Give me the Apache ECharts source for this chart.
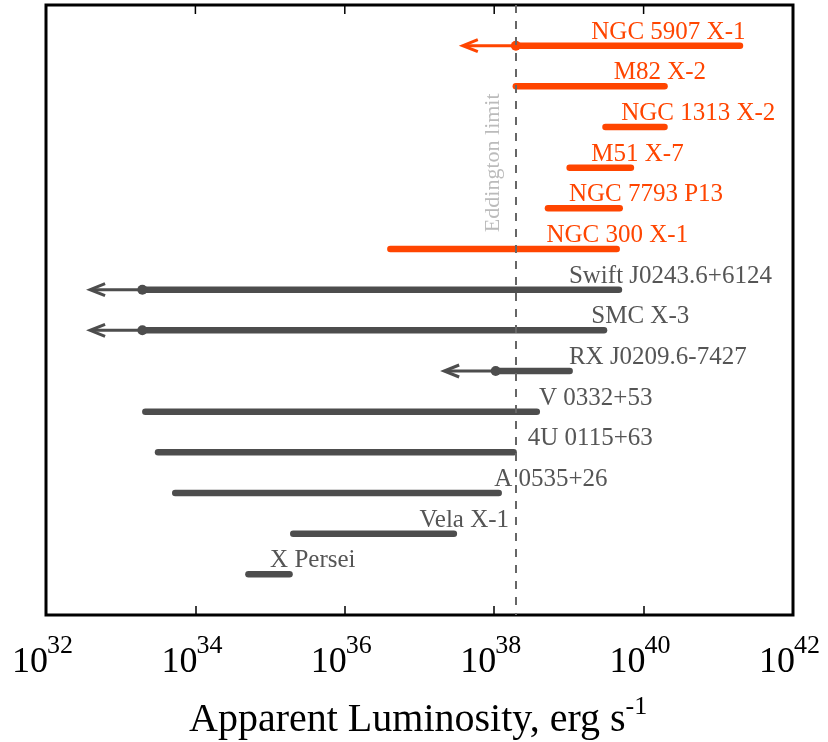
<!DOCTYPE html>
<html>
<head>
<meta charset="utf-8">
<script src="https://cdn.jsdelivr.net/npm/echarts@6/dist/echarts.min.js"></script>
<style>
  html, body { margin: 0; padding: 0; background: #fff; }
  #chart { width: 828px; height: 742px; }
</style>
</head>
<body>
<div id="chart"></div>
<script>
// log10 of apparent luminosity (erg/s), one row per source, top to bottom
const sources = ['NGC 5907 X-1', 'M82 X-2', 'NGC 1313 X-2', 'M51 X-7', 'NGC 7793 P13', 'NGC 300 X-1',
  'Swift J0243.6+6124', 'SMC X-3', 'RX J0209.6-7427', 'V 0332+53', '4U 0115+63', 'A 0535+26', 'Vela X-1', 'X Persei'];
const isULX = [1, 1, 1, 1, 1, 1, 0, 0, 0, 0, 0, 0, 0, 0];
const logLow = [38.29, 38.29, 39.49, 39.01, 38.72, 36.61, 33.29, 33.29, 38.02, 33.33, 33.50, 33.73, 35.31, 34.71];
const logHigh = [41.29, 40.28, 40.28, 39.83, 39.68, 39.64, 39.67, 39.47, 39.01, 38.57, 38.26, 38.06, 37.46, 35.26];
// upper limits: arrow goes down to this value
const logLimit = [37.58, null, null, null, null, null, 32.59, 32.59, 37.33, null, null, null, null, null];
const labelAt = [39.3, 39.6, 39.7, 39.3, 39.0, 38.7, 39.0, 39.3, 39.0, 38.6, 38.45, 38.0, 37.0, 35.0];
const eddington = 38.29;
const xTicks = [32, 34, 36, 38, 40, 42];

const orange = '#ff4500', grey = '#4d4d4d';
const serif = 'Liberation Serif, Times New Roman, serif';

let chart = echarts.init(document.getElementById('chart'));

function renderRow(params, api) {
  let i = params.dataIndex;
  let col = isULX[i] ? orange : grey;
  let p0 = api.coord([logLow[i], i]);
  let p1 = api.coord([logHigh[i], i]);
  let lab = api.coord([labelAt[i], i]);
  let kids = [];
  if (logLimit[i] != null) {
    let t = api.coord([logLimit[i], i]);
    kids.push({type: 'line', shape: {x1: t[0] + 2, y1: t[1], x2: p0[0], y2: p0[1]},
      style: {stroke: col, lineWidth: 3}});
    kids.push({type: 'polyline', shape: {points: [[t[0] + 15, t[1] - 6], [t[0], t[1]], [t[0] + 15, t[1] + 6]]},
      style: {stroke: col, lineWidth: 3, fill: null, lineJoin: 'miter'}});
  }
  kids.push({type: 'line', shape: {x1: p0[0], y1: p0[1], x2: p1[0], y2: p1[1]},
    style: {stroke: col, lineWidth: 6.5, lineCap: 'round'}});
  if (logLimit[i] != null) {
    kids.push({type: 'circle', shape: {cx: p0[0], cy: p0[1], r: 5}, style: {fill: col}});
  }
  kids.push({type: 'text', style: {text: sources[i], x: lab[0], y: lab[1] - 1,
    fill: isULX[i] ? orange : '#555', fontSize: 25, fontFamily: serif,
    align: 'left', verticalAlign: 'bottom', textAlign: 'left', textVerticalAlign: 'bottom'}});
  return {type: 'group', children: kids};
}

// inward ticks along the top edge + "10^n" labels under the bottom edge
function renderTick(params, api) {
  let v = api.value(0);
  let top = api.coord([v, -1]);
  let bot = api.coord([v, 14]);
  let kids = [];
  if (v > xTicks[0] && v < xTicks[xTicks.length - 1]) {
    kids.push({type: 'line', shape: {x1: top[0], y1: top[1], x2: top[0], y2: top[1] + 9},
      style: {stroke: '#000', lineWidth: 1.5}});
  }
  kids.push({type: 'text', style: {text: '10', x: bot[0] + 2, y: bot[1] + 66, fill: '#000',
    fontSize: 36, fontFamily: serif, align: 'right', verticalAlign: 'bottom', textAlign: 'right', textVerticalAlign: 'bottom'}});
  kids.push({type: 'text', style: {text: String(v), x: bot[0] + 1, y: bot[1] + 44, fill: '#000',
    fontSize: 26, fontFamily: serif, align: 'left', verticalAlign: 'bottom', textAlign: 'left', textVerticalAlign: 'bottom'}});
  return {type: 'group', children: kids};
}

let option = {
  animation: false,
  title: {
    text: '{a|Apparent Luminosity, erg s}{s|-1}',
    left: 189, top: 694, padding: 0,
    textStyle: {
      rich: {
        a: {fontSize: 40, fontFamily: serif, fontWeight: 'normal', color: '#000', lineHeight: 46, verticalAlign: 'bottom'},
        s: {fontSize: 26, fontFamily: serif, fontWeight: 'normal', color: '#000', lineHeight: 28, verticalAlign: 'top'}
      }
    }
  },
  grid: {left: 46, right: 35, top: 5, bottom: 127, outerBoundsMode: 'none', containLabel: false,
    show: true, borderColor: '#000', borderWidth: 3, backgroundColor: '#fff'},
  xAxis: {
    type: 'value', min: xTicks[0], max: xTicks[xTicks.length - 1], interval: 2,
    axisLine: {show: false, onZero: false}, splitLine: {show: false},
    axisTick: {inside: true, length: 9, lineStyle: {color: '#000', width: 1.5}},
    axisLabel: {show: false}
  },
  yAxis: {type: 'value', min: -1, max: 14, inverse: true, show: false},
  series: [
    {
      type: 'line', data: [], z: 1,
      markLine: {
        silent: true, symbol: 'none', label: {show: false},
        lineStyle: {color: '#666', width: 2, type: [8, 8]},
        data: [{xAxis: eddington}]
      }
    },
    {
      type: 'scatter', symbolSize: 0, z: 1,
      data: [[37.99, 2.88]],
      label: {show: true, formatter: 'Eddington limit', rotate: 90, position: 'inside',
        fontSize: 22, fontFamily: serif, color: '#aaa'}
    },
    {
      type: 'custom', z: 2, silent: true, clip: false,
      data: xTicks.map(v => [v, 14]),
      renderItem: renderTick
    },
    {
      type: 'custom', z: 3,
      data: sources.map((s, i) => [logLow[i], i]),
      renderItem: renderRow
    }
  ]
};
chart.setOption(option);
</script>
</body>
</html>
